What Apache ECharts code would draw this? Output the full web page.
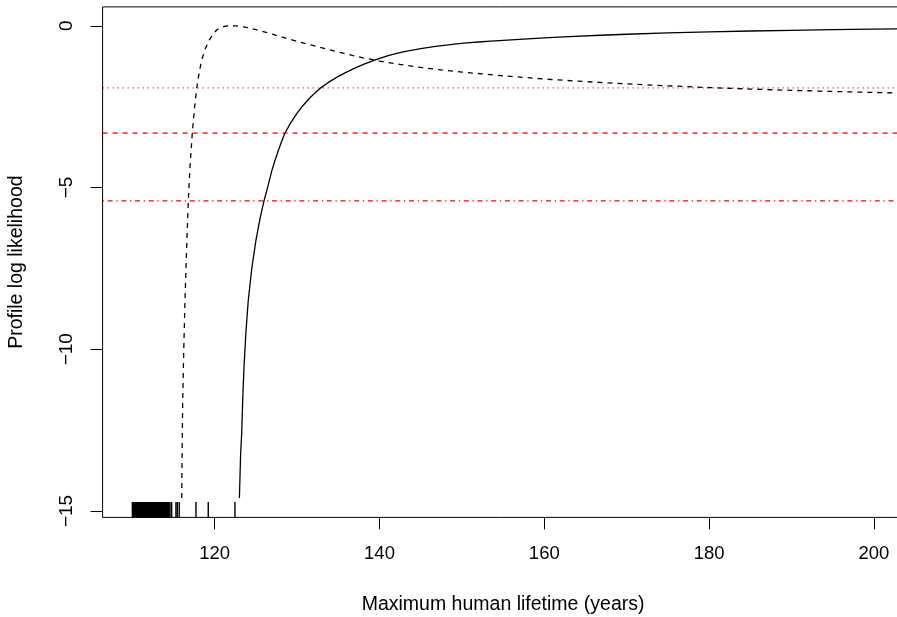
<!DOCTYPE html>
<html>
<head>
<meta charset="utf-8">
<script src="https://cdn.jsdelivr.net/npm/echarts@6/dist/echarts.min.js"></script>
<style>
  html, body { margin: 0; padding: 0; background: #fff; }
  #chart { width: 897px; height: 617px; }
</style>
</head>
<body>
<div id="chart"></div>
<script>
// tick labels
var xTicks = [120, 140, 160, 180, 200];
var yTicks = [0, -5, -10, -15];

// profile log likelihood, solid curve
var solidX = [123.0, 123.15, 123.28, 123.4, 123.56, 123.8, 124.08, 124.5, 125.0, 125.5, 126.0, 126.5, 126.9, 127.3, 127.7, 128.1, 128.5, 129.2, 130, 130.7, 131.5, 132.1, 132.78, 133.8, 134.9, 136, 137.2, 138.2, 139.25, 140.2, 141.27, 142.1, 143, 144, 145, 146, 147, 148.1, 149.37, 150.6, 152, 153.5, 155, 157.5, 160, 163, 166.8, 170, 175, 180, 185, 190, 195, 200, 203.6];
var solidY = [-14.6, -13.23, -12.6, -11.57, -10.54, -9.44, -8.48, -7.51, -6.64, -5.96, -5.40, -4.92, -4.51, -4.18, -3.87, -3.59, -3.33, -3.01, -2.70, -2.47, -2.24, -2.09, -1.935, -1.75, -1.58, -1.43, -1.285, -1.175, -1.075, -0.99, -0.906, -0.855, -0.80, -0.75, -0.705, -0.665, -0.63, -0.595, -0.56, -0.53, -0.50, -0.473, -0.448, -0.41, -0.375, -0.335, -0.292, -0.26, -0.22, -0.188, -0.16, -0.138, -0.118, -0.10, -0.09];

// dashed curve
var dashX = [116.0, 116.06, 116.12, 116.25, 116.4, 116.6, 116.8, 117.02, 117.28, 117.55, 117.82, 118.1, 118.42, 118.85, 119.34, 119.8, 120.24, 120.6, 121, 121.5, 122, 122.5, 123, 123.5, 124, 125, 126, 127, 128, 129, 130, 132, 134, 136, 138, 140, 142.5, 145, 147.5, 150, 155, 160, 165, 170, 175, 180, 185, 190, 195, 200, 203.6];
var dashY = [-14.6, -13.0, -11.57, -10.0, -8.48, -6.85, -5.4, -4.3, -3.33, -2.55, -1.94, -1.47, -1.06, -0.72, -0.44, -0.26, -0.13, -0.07, -0.03, -0.005, 0, -0.002, -0.012, -0.03, -0.055, -0.115, -0.185, -0.26, -0.335, -0.41, -0.48, -0.615, -0.745, -0.87, -0.99, -1.09, -1.195, -1.285, -1.365, -1.43, -1.545, -1.645, -1.725, -1.795, -1.855, -1.91, -1.955, -1.995, -2.03, -2.06, -2.08];

// cut-off levels (red horizontal lines)
var cutDotted = -1.921;
var cutDashed = -3.317;
var cutDotDash = -5.414;

// observed ages (rug)
var rugAges = [110.01, 110.06, 110.13, 110.19, 110.24, 110.31, 110.37, 110.42, 110.5, 110.55, 110.61, 110.68, 110.74, 110.79, 110.86, 110.92, 110.99, 111.04, 111.11, 111.17, 111.22, 111.3, 111.35, 111.41, 111.48, 111.54, 111.6, 111.67, 111.72, 111.79, 111.85, 111.9, 111.97, 112.03, 112.1, 112.15, 112.22, 112.28, 112.35, 112.41, 112.46, 112.53, 112.6, 112.65, 112.72, 112.78, 112.84, 112.91, 112.97, 113.03, 113.1, 113.16, 113.22, 113.29, 113.35, 113.41, 113.47, 113.54, 113.6, 113.66, 113.73, 113.79, 113.85, 113.92, 113.98, 114.05, 114.11, 114.18, 114.25, 114.32, 114.4, 114.47, 114.58, 114.78, 115.30, 115.46, 115.70, 117.73, 119.22, 122.46];

var X_MIN = 106.4, X_MAX = 203.6, Y_MIN = -15.2, Y_MAX = 0.585;

function pairs(xs, ys) {
    return xs.map(function (x, i) { return [x, ys[i]]; });
}
function minus(v) {
    return String(v).replace('-', '\u2212');
}
function hline(y, dash, w) {
    return {
        type: 'line',
        data: [[X_MIN, y], [X_MAX, y]],
        showSymbol: false,
        silent: true,
        lineStyle: { color: '#ff0000', width: w, type: dash },
        z: 2
    };
}

var myChart = echarts.init(document.getElementById('chart'), null, { renderer: 'canvas' });
var fontFam = '"Liberation Sans", Arial, sans-serif';

var option = {
    animation: false,
    grid: {
        left: 102.6,
        top: 6.9,
        width: 801,
        height: 510.5,
        show: true,
        borderColor: '#000',
        borderWidth: 1,
        backgroundColor: 'transparent',
        containLabel: false,
        outerBoundsMode: 'none'
    },
    xAxis: {
        type: 'value',
        min: X_MIN,
        max: X_MAX,
        name: 'Maximum human lifetime (years)',
        nameLocation: 'middle',
        nameGap: 77,
        nameTextStyle: { color: '#000', fontSize: 19.5, fontFamily: fontFam },
        axisLine: { show: false, onZero: false },
        splitLine: { show: false },
        axisTick: {
            show: true,
            length: 12,
            customValues: xTicks,
            lineStyle: { color: '#000', width: 1 }
        },
        axisLabel: {
            customValues: xTicks,
            margin: 27,
            color: '#000',
            fontSize: 18.5,
            fontFamily: fontFam,
            formatter: function (v) { return minus(v); }
        }
    },
    yAxis: {
        type: 'value',
        min: Y_MIN,
        max: Y_MAX,
        name: 'Profile log likelihood',
        nameLocation: 'middle',
        nameRotate: 90,
        nameGap: 76,
        nameTextStyle: { color: '#000', fontSize: 19.5, fontFamily: fontFam },
        axisLine: { show: false, onZero: false },
        splitLine: { show: false },
        axisTick: {
            show: true,
            length: 12,
            customValues: yTicks,
            lineStyle: { color: '#000', width: 1 }
        },
        axisLabel: {
            customValues: yTicks,
            rotate: 90,
            margin: 26,
            color: '#000',
            fontSize: 19,
            fontFamily: fontFam,
            formatter: function (v) { return minus(v); }
        }
    },
    series: [
        hline(cutDotted, [1.3, 3.7], 1),
        hline(cutDashed, [5, 5], 1.3),
        hline(cutDotDash, [1.3, 3.7, 5, 3.7], 1.1),
        {
            type: 'line',
            name: 'solid',
            data: pairs(solidX, solidY),
            showSymbol: false,
            lineStyle: { color: '#000', width: 1.3 },
            z: 3
        },
        {
            type: 'line',
            name: 'dashed',
            data: pairs(dashX, dashY),
            showSymbol: false,
            lineStyle: { color: '#000', width: 1.3, type: [5, 5] },
            z: 3
        },
        {
            type: 'custom',
            name: 'rug',
            data: rugAges.map(function (a) { return [a]; }),
            renderItem: function (params, api) {
                var x = api.value(0);
                var p0 = api.coord([x, Y_MIN]);
                var p1 = api.coord([x, Y_MIN + 0.4736]);
                return {
                    type: 'line',
                    shape: { x1: p0[0], y1: p0[1], x2: p1[0], y2: p1[1] },
                    style: { stroke: '#000', lineWidth: 1.4 }
                };
            },
            encode: { x: 0 },
            z: 2
        }
    ]
};
myChart.setOption(option);
window.addEventListener('resize', function () {
    myChart.resize();
});
</script>
</body>
</html>
